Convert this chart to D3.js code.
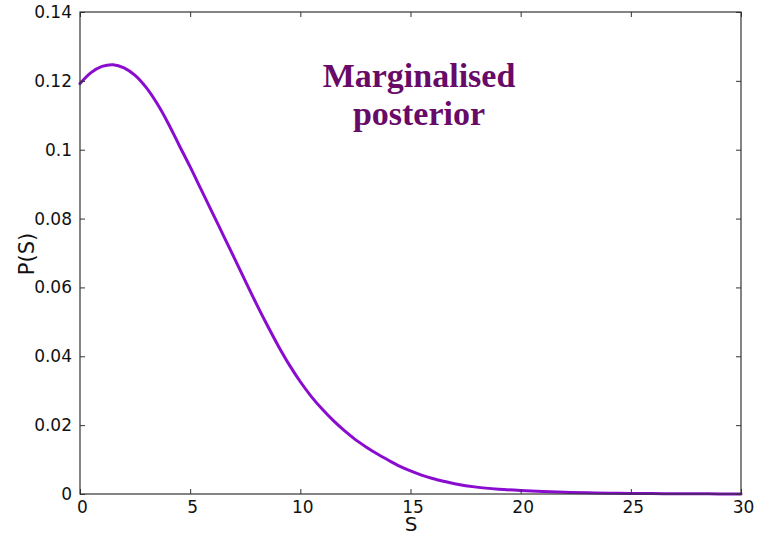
<!DOCTYPE html>
<html>
<head>
<meta charset="utf-8">
<script src="https://cdn.jsdelivr.net/npm/d3@7"></script>
<style>
  html, body { margin: 0; padding: 0; background: #fff; }
  svg { display: block; }
</style>
</head>
<body>
<svg id="chart" width="757" height="535"></svg>
<script>
// Marginalised posterior P(S), sampled along S
const sValues = [0, 0.5, 1, 1.5, 2, 2.5, 3, 3.5, 4, 4.5, 5, 5.5, 6, 6.5, 7, 7.5, 8, 8.5, 9, 9.5,
  10, 10.5, 11, 11.5, 12, 12.5, 13, 13.5, 14, 14.5, 15, 15.5, 16, 16.5, 17, 18, 19, 20, 21, 22,
  23, 24, 25, 26, 27, 28, 29, 30];
const pValues = [0.1192, 0.1224, 0.1242, 0.1247, 0.1238, 0.1216, 0.1181, 0.1134, 0.1077, 0.1013,
  0.0950, 0.0884, 0.0818, 0.0752, 0.0686, 0.0619, 0.0553, 0.0490, 0.0430, 0.0375,
  0.0326, 0.0283, 0.0246, 0.0213, 0.0184, 0.0158, 0.0136, 0.0116, 0.0098, 0.0081,
  0.0067, 0.0055, 0.0045, 0.0037, 0.0030, 0.0020, 0.0014, 0.0010, 0.0007, 0.0005,
  0.00035, 0.00025, 0.00017, 0.00012, 0.00008, 0.00005, 0.00003, 0.00002];

const xTicks = [0, 5, 10, 15, 20, 25, 30];
const yTicks = [0, 0.02, 0.04, 0.06, 0.08, 0.1, 0.12, 0.14];
const yTickLabels = ["0", "0.02", "0.04", "0.06", "0.08", "0.1", "0.12", "0.14"];
const titleLines = ["Marginalised", "posterior"];

(function draw() {
  const svg = d3.select("#chart");
  const plotLeft = 80, plotRight = 741, plotTop = 12, plotBottom = 494;

  const x = d3.scaleLinear().domain([0, 30]).range([plotLeft, plotRight]);
  const y = d3.scaleLinear().domain([0, 0.14]).range([plotBottom, plotTop]);

  const axisColor = "#333";
  const tickFont = "DejaVu Sans, sans-serif";

  // curve
  const data = sValues.map((s, i) => ({ s, p: pValues[i] }));
  svg.append("path")
    .datum(data)
    .attr("fill", "none")
    .attr("stroke", "#8a0ccf")
    .attr("stroke-width", 3)
    .attr("stroke-linejoin", "round")
    .attr("stroke-linecap", "round")
    .attr("d", d3.line().x(d => x(d.s)).y(d => y(d.p)).curve(d3.curveCatmullRom.alpha(0.5)));

  // axes with inward ticks on all four sides
  function styleAxis(g) {
    g.select(".domain").remove();
    g.selectAll(".tick line").attr("stroke", axisColor).attr("stroke-width", 1);
    g.selectAll(".tick text")
      .attr("fill", "#111")
      .style("font-family", tickFont)
      .style("font-size", "17px");
  }

  svg.append("g")
    .attr("transform", `translate(0,${plotBottom})`)
    .call(d3.axisBottom(x).tickValues(xTicks).tickFormat(d3.format("d")).tickSizeInner(-5).tickPadding(7))
    .call(styleAxis)
    .call(g => g.selectAll(".tick text").attr("dx", 2));

  svg.append("g")
    .attr("transform", `translate(0,${plotTop})`)
    .call(d3.axisTop(x).tickValues(xTicks).tickFormat("").tickSizeInner(-5))
    .call(styleAxis);

  svg.append("g")
    .attr("transform", `translate(${plotLeft},0)`)
    .call(d3.axisLeft(y).tickValues(yTicks).tickFormat((d, i) => yTickLabels[i]).tickSizeInner(-5).tickPadding(8))
    .call(styleAxis);

  svg.append("g")
    .attr("transform", `translate(${plotRight},0)`)
    .call(d3.axisRight(y).tickValues(yTicks).tickFormat("").tickSizeInner(-5))
    .call(styleAxis);

  // frame
  svg.append("rect")
    .attr("x", plotLeft).attr("y", plotTop)
    .attr("width", plotRight - plotLeft).attr("height", plotBottom - plotTop)
    .attr("fill", "none")
    .attr("stroke", axisColor)
    .attr("stroke-width", 1.2);

  // axis labels
  svg.append("text")
    .attr("x", 411).attr("y", 531)
    .attr("text-anchor", "middle")
    .style("font-family", tickFont)
    .style("font-size", "20px")
    .attr("fill", "#111")
    .text("S");

  svg.append("text")
    .attr("transform", "translate(34,254) rotate(-90)")
    .attr("text-anchor", "middle")
    .style("font-family", tickFont)
    .style("font-size", "21px")
    .attr("fill", "#111")
    .text("P(S)");

  // title inside plot
  svg.append("g")
    .selectAll("text")
    .data(titleLines)
    .join("text")
    .attr("x", 419)
    .attr("y", (d, i) => 87 + i * 38)
    .attr("text-anchor", "middle")
    .style("font-family", "Liberation Serif, serif")
    .style("font-weight", "bold")
    .style("font-size", "34px")
    .attr("fill", "#680a68")
    .text(d => d);
})();
</script>
</body>
</html>
